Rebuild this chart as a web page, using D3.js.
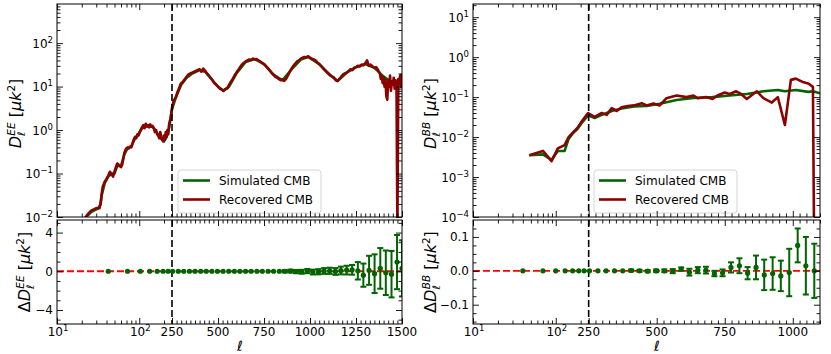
<!DOCTYPE html>
<html lang="en">
<head>
<meta charset="utf-8">
<title>EE / BB recovered vs simulated</title>
<script src="https://d3js.org/d3.v7.min.js"></script>
<style>
  body { margin: 0; background: #fff; }
  text { font-family: "DejaVu Sans", sans-serif; fill: #000; }
</style>
</head>
<body>
<script>

// ---- data ----
// EE spectrum, [ell, D_ell] in uK^2
var eeRec = [[18,0.005],[20,0.007],[22,0.0095],[24,0.012],[26,0.014],[28,0.015],[30,0.016],[32,0.016],[34,0.02],[35,0.035],[36,0.05],[38,0.065],[40,0.075],[42,0.09],[44,0.11],[46,0.095],[48,0.085],[50,0.11],[52,0.14],[54,0.17],[56,0.16],[58,0.15],[60,0.14],[62,0.16],[64,0.22],[66,0.3],[68,0.35],[70,0.38],[72,0.4],[75,0.38],[78,0.42],[80,0.4],[83,0.5],[86,0.62],[89,0.7],[92,0.65],[95,0.8],[98,0.75],[101,0.9],[104,1.0],[108,1.15],[112,1.3],[116,1.1],[120,1.4],[124,1.2],[128,1.3],[132,1.15],[136,1.35],[140,1.2],[145,1.25],[150,1.1],[155,0.9],[160,1.0],[165,0.8],[170,0.75],[175,0.65],[180,0.9],[185,0.7],[190,0.6],[195,0.55],[200,0.75],[205,0.6],[210,0.9],[215,0.7],[220,1.0],[225,0.8],[230,1.3],[235,1.6],[240,1.8],[245,2.5],[250,3.2],
  [255,4],[260,4.8],[265,5.2],[270,5.5],[275,6.5],[280,7.5],[285,8.5],[290,9.5],[295,11],[300,12],[310,13],[320,15],[330,17],[340,19],[350,20],[360,21],[370,22],[380,23],[390,24],[400,25],[410,22],[420,26],[430,23],[440,20],[450,18],[460,16],[470,14],[480,12],[490,11],[500,10],[510,9],[520,8.5],[530,8],[540,8.8],[550,9],[560,11],[570,13],[580,15],[590,18],[600,21],[610,24],[620,28],[630,32],[640,35],[650,38],[660,40],[670,42],[680,41],[690,44],[700,42],[710,43],[720,40],[730,38],[740,35],[750,33],[760,30],[770,27],[780,24],[790,21],[800,19],[810,17],[820,16],[830,15],[840,14],[850,14.5],[860,13.5],[870,15],[880,18],[890,22],[900,26],[910,30],[920,34],[930,38],[940,40],[950,44],[960,46],[970,48],[980,47],[990,50],[1000,46],[1010,44],[1020,42],[1030,40],[1040,36],[1050,33],[1060,30],[1070,27],[1080,24],[1090,22],[1100,20],[1110,18],[1120,17],[1130,16],[1140,14],[1150,13.5],[1160,15],[1170,17],[1180,19],[1190,20],[1200,21],[1210,23],[1220,25],[1230,24],[1240,27],[1250,28],[1260,30],[1270,29],[1280,32],[1290,31],[1300,34],[1310,40],[1320,30],[1330,32],[1340,29],[1350,27],[1360,28],[1370,24],[1380,20],[1385,15],[1390,18],[1395,12],[1400,16],[1405,10],[1410,14],[1415,6],[1420,5],[1425,14],[1430,10],[1435,18],[1440,8],[1445,13],[1450,11],[1455,16],[1460,9],[1465,14],[1470,12],[1475,0.005],[1480,15],[1485,12],[1490,18],[1495,10],[1500,20]];

var eeSim = [[18,0.005],[22,0.0095],[26,0.013],[30,0.015],[33,0.016],[35,0.032],[38,0.06],[42,0.085],[46,0.1],[50,0.1],[54,0.15],[60,0.15],[66,0.28],[72,0.38],[80,0.42],[89,0.65],[98,0.8],[108,1.1],[120,1.25],[132,1.2],[145,1.2],[160,0.95],[175,0.7],[190,0.6],[200,0.55],[215,0.7],[230,1.1],[240,1.8],[250,3.0],[270,5.5],[300,11],[330,16],[360,20],[400,24],[430,22],[470,14],[500,10],[530,8],[560,10],[600,20],[650,37],[700,43],[750,33],[800,19],[850,14],[900,25],[950,42],[990,48],[1050,33],[1100,20],[1150,13.5],[1200,21],[1250,28],[1300,33],[1350,27],[1400,17],[1450,12],[1500,13]];

// BB spectrum, [ell, D_ell]
var bbRec = [[48,0.0035],[70,0.0045],[89,0.0025],[106,0.0052],[128,0.0063],[143,0.010],[164,0.0134],[183,0.017],[204,0.024],[246,0.04],[272,0.032],[298,0.04],[316,0.036],[335,0.053],[353,0.045],[371,0.056],[393,0.06],[417,0.062],[445,0.07],[463,0.062],[488,0.069],[511,0.062],[536,0.094],[573,0.11],[610,0.1],[635,0.11],[650,0.094],[681,0.1],[705,0.09],[723,0.11],[750,0.13],[768,0.12],[792,0.14],[810,0.12],[831,0.09],[868,0.14],[892,0.094],[923,0.073],[945,0.1],[971,0.02],[993,0.27],[1011,0.29],[1036,0.24],[1057,0.22],[1074,0.18],[1078,0.00005]];

var bbSim = [[48,0.0035],[70,0.0037],[89,0.0027],[106,0.0045],[128,0.0045],[143,0.009],[164,0.013],[183,0.016],[204,0.022],[246,0.035],[272,0.03],[298,0.036],[335,0.045],[371,0.052],[417,0.058],[463,0.06],[511,0.068],[573,0.085],[635,0.095],[705,0.1],[768,0.11],[831,0.12],[892,0.14],[945,0.15],[971,0.14],[1011,0.15],[1057,0.135],[1074,0.14],[1100,0.125]];

// residuals (recovered - simulated), binned
var eeBins = [42,72,103,134,165,195,224,253,284,314,345,375,406,436,467,497,528,558,589,619,650,680,711,741,772,802,833,863,894,924,955,985,1016,1046,1077,1107,1138,1168,1199,1229,1260,1290,1321,1351,1382,1412,1443,1473,1500];
var eeDiff = [0,0,0,0,0,0,0,0,0,0,0,0,0,0,0,0,0,0,0,0,0,0,0,0,0,0,0,0,0.02,-0.03,-0.05,0.02,-0.08,-0.05,0.03,0.05,-0.02,0.08,0.12,0.15,0.05,-0.4,0.1,-0.25,0.3,-0.15,-0.3,0.95,0.3];
var eeErr = [0.03,0.03,0.03,0.03,0.03,0.03,0.03,0.03,0.03,0.03,0.03,0.03,0.03,0.03,0.03,0.03,0.03,0.05,0.05,0.06,0.06,0.07,0.07,0.08,0.08,0.09,0.1,0.12,0.15,0.17,0.2,0.22,0.25,0.27,0.3,0.32,0.35,0.4,0.45,0.5,0.9,1.2,1.5,2.0,2.1,2.3,2.4,2.8,2.9];

var bbBins = [40,70,100,130,160,190,220,253,284,314,345,375,406,437,467,498,528,559,590,620,651,681,712,742,773,804,834,865,895,926,956,987,1018,1048,1079];
var bbDiff = [0,0,0,0,0,0,0,0,0,0,0,0,0.001,0,-0.001,0,0,-0.001,0.005,-0.004,0.002,0.002,-0.008,-0.006,0.01,0.015,-0.007,0.01,-0.012,-0.008,-0.015,-0.005,0.075,0.015,0.0];
var bbErr = [0.001,0.001,0.001,0.001,0.001,0.001,0.001,0.001,0.001,0.001,0.001,0.002,0.003,0.003,0.003,0.004,0.004,0.006,0.005,0.01,0.009,0.01,0.008,0.01,0.015,0.022,0.018,0.035,0.045,0.048,0.045,0.07,0.05,0.085,0.08];

var legendNames = ["Simulated CMB", "Recovered CMB"];
var green = "#006400", red = "#8b0000";

var svg = d3.select("body").append("svg").attr("width", 831).attr("height", 354);

// inward tick marks via d3 axes
function ticks(g, axisFn, scale, pos, vals, len, horiz) {
  var a = axisFn(scale).tickValues(vals).tickSize(-len).tickFormat("");
  var gg = g.append("g")
    .attr("transform", horiz ? "translate(0," + pos + ")" : "translate(" + pos + ",0)")
    .call(a);
  gg.select(".domain").remove();
  gg.selectAll("text").remove();
  gg.selectAll("line").attr("stroke", "#000").attr("stroke-width", 0.9);
}

function pow10(sel, e) {
  sel.text("10");
  sel.append("tspan").attr("dy", -5).attr("font-size", 8.5).text(e);
}

function ylabel(g, bx, cy, delta, sup) {
  var t = g.append("text").attr("transform", "translate(" + bx + "," + cy + ") rotate(-90)")
    .attr("text-anchor", "middle").attr("font-size", 16);
  if (delta) t.append("tspan").text("Δ");
  t.append("tspan").attr("font-style", "italic").text("D");
  t.append("tspan").attr("font-style", "italic").attr("font-size", 10.5).attr("dy", 4).text("ℓ");
  t.append("tspan").attr("font-style", "italic").attr("font-size", 10.5).attr("dx", -4).attr("dy", -10.5).text(sup);
  t.append("tspan").attr("dy", 6.5).text(" [");
  t.append("tspan").attr("font-style", "italic").text("μk");
  t.append("tspan").attr("font-size", 10.5).attr("dy", -6.5).text("2");
  t.append("tspan").attr("dy", 6.5).text("]");
}

function panel(o) {
  var x0 = o.x0, x1 = o.x1, xb = x0 + (x1 - x0) / 3;
  var yT0 = 4, yT1 = 217, yB0 = 220, yB1 = 324;
  var xLog = d3.scaleLog().domain([10, 250]).range([x0, xb]);
  var xLin = d3.scaleLinear().domain([250, o.lmax]).range([xb, x1]);
  var xs = function(l) { return l <= 250 ? xLog(l) : xLin(l); };
  var yTop = d3.scaleLog().domain(o.yDom).range([yT1, yT0]);
  var yBot = d3.scaleLinear().domain(o.rDom).range([yB1, yB0]);
  var g = svg.append("g");

  // clip paths
  g.append("clipPath").attr("id", o.id + "t").append("rect")
    .attr("x", x0).attr("y", yT0).attr("width", x1 - x0).attr("height", yT1 - yT0);
  g.append("clipPath").attr("id", o.id + "b").append("rect")
    .attr("x", x0).attr("y", yB0).attr("width", x1 - x0).attr("height", yB1 - yB0);

  // spectra
  var line = d3.line().x(function(d) { return xs(d[0]); }).y(function(d) { return yTop(d[1]); });
  var top = g.append("g").attr("clip-path", "url(#" + o.id + "t)");
  top.append("path").datum(o.sim).attr("d", line).attr("fill", "none")
    .attr("stroke", green).attr("stroke-width", 2.6).attr("stroke-linejoin", "round");
  top.append("path").datum(o.rec).attr("d", line).attr("fill", "none")
    .attr("stroke", red).attr("stroke-width", 2.6).attr("stroke-linejoin", "round");

  // l = 250 marker
  [[yT0, yT1], [yB0, yB1]].forEach(function(r) {
    g.append("line").attr("x1", xs(250)).attr("x2", xs(250)).attr("y1", r[0]).attr("y2", r[1])
      .attr("stroke", "#000").attr("stroke-width", 1.6).attr("stroke-dasharray", "7,3");
  });

  // legend
  var lg = g.append("g").attr("transform", "translate(" + (x0 + 121) + ",170)");
  lg.append("rect").attr("width", 143).attr("height", 43).attr("rx", 3)
    .attr("fill", "#fff").attr("fill-opacity", 0.8).attr("stroke", "#d5d5d5");
  legendNames.forEach(function(n, i) {
    lg.append("line").attr("x1", 5).attr("x2", 32).attr("y1", 10.5 + i * 19).attr("y2", 10.5 + i * 19)
      .attr("stroke", i ? red : green).attr("stroke-width", 2.6);
    lg.append("text").attr("x", 41).attr("y", 15 + i * 19).attr("font-size", 12).text(n);
  });

  // residuals
  var bot = g.append("g").attr("clip-path", "url(#" + o.id + "b)");
  bot.append("line").attr("x1", x0).attr("x2", x1).attr("y1", yBot(0)).attr("y2", yBot(0))
    .attr("stroke", "#ff0000").attr("stroke-width", 1.8).attr("stroke-dasharray", "7,3");
  o.bins.forEach(function(l, i) {
    var cx = xs(l), m = o.diff[i], e = o.err[i];
    var eb = bot.append("g").attr("stroke", green).attr("stroke-width", 2);
    eb.append("line").attr("x1", cx).attr("x2", cx).attr("y1", yBot(m - e)).attr("y2", yBot(m + e));
    if (yBot(m - e) - yBot(m + e) > 2) {
      [m - e, m + e].forEach(function(v) {
        eb.append("line").attr("x1", cx - 3).attr("x2", cx + 3).attr("y1", yBot(v)).attr("y2", yBot(v));
      });
    }
    bot.append("circle").attr("cx", cx).attr("cy", yBot(m)).attr("r", 2.6).attr("fill", green);
  });

  // frames
  [[yT0, yT1], [yB0, yB1]].forEach(function(r) {
    g.append("rect").attr("x", x0).attr("y", r[0]).attr("width", x1 - x0).attr("height", r[1] - r[0])
      .attr("fill", "none").attr("stroke", "#000").attr("stroke-width", 1);
  });

  // x ticks on all four horizontal edges
  var logMaj = [10, 100], logMin = [20, 30, 40, 50, 60, 70, 80, 90, 200];
  var linMaj = d3.range(250, o.lmax + 1, 250);
  var linMin = d3.range(275, o.lmax + 1, 25).filter(function(v) { return v % 250 !== 0; });
  [[yT1, d3.axisBottom], [yT0, d3.axisTop], [yB1, d3.axisBottom], [yB0, d3.axisTop]].forEach(function(p) {
    ticks(g, p[1], xLog, p[0], logMaj, 6, true);
    ticks(g, p[1], xLog, p[0], logMin, 3.5, true);
    ticks(g, p[1], xLin, p[0], linMaj, 6, true);
    ticks(g, p[1], xLin, p[0], linMin, 3.5, true);
  });

  // y ticks, top (log)
  var d0 = Math.round(Math.log10(o.yDom[0])), d1 = Math.floor(Math.log10(o.yDom[1]));
  var yMaj = d3.range(d0, d1 + 1).map(function(d) { return Math.pow(10, d); });
  var yMin = [];
  d3.range(d0, d1 + 1).forEach(function(d) {
    for (var k = 2; k < 10; k++) { var v = k * Math.pow(10, d); if (v < o.yDom[1]) yMin.push(v); }
  });
  [[x0, d3.axisLeft], [x1, d3.axisRight]].forEach(function(p) {
    ticks(g, p[1], yTop, p[0], yMaj, 6, false);
    ticks(g, p[1], yTop, p[0], yMin, 3.5, false);
    ticks(g, p[1], yBot, p[0], o.rMaj, 6, false);
    ticks(g, p[1], yBot, p[0], o.rMin, 3.5, false);
  });

  // tick labels
  yMaj.forEach(function(v) {
    var e = Math.round(Math.log10(v));
    var t = g.append("text").attr("x", x0 - 4).attr("y", yTop(v) + 4.5)
      .attr("text-anchor", "end").attr("font-size", 12);
    pow10(t, e < 0 ? "−" + (-e) : String(e));
  });
  o.rMaj.forEach(function(v) {
    g.append("text").attr("x", x0 - 4).attr("y", yBot(v) + 4.5).attr("text-anchor", "end")
      .attr("font-size", 12).text(o.rFmt(v).replace("-", "−"));
  });
  [[10, "1"], [100, "2"]].forEach(function(p) {
    var t = g.append("text").attr("x", xs(p[0]) + 1).attr("y", yB1 + 12).attr("text-anchor", "middle").attr("font-size", 12);
    pow10(t, p[1]);
  });
  linMaj.forEach(function(v) {
    g.append("text").attr("x", xs(v)).attr("y", yB1 + 12).attr("text-anchor", "middle")
      .attr("font-size", 12).text(v);
  });

  // axis titles
  ylabel(g, o.ylx, (yT0 + yT1) / 2 + 3, false, o.sup);
  ylabel(g, o.ylxB, (yB0 + yB1) / 2, true, o.sup);
  g.append("text").attr("x", o.xlab).attr("y", 351).attr("text-anchor", "middle")
    .attr("font-size", 14).attr("font-style", "italic").text("ℓ");
}

panel({ id: "ee", x0: 57, x1: 402, lmax: 1500, yDom: [1e-2, Math.pow(10, 2.9)],
  rDom: [-5.45, 5.3], rMaj: [-4, 0, 4], rMin: [-5, -3, -2, -1, 1, 2, 3, 5], rFmt: d3.format("d"),
  rec: eeRec, sim: eeSim, bins: eeBins, diff: eeDiff, err: eeErr,
  sup: "EE", ylx: 21, ylxB: 30, xlab: 240 });

panel({ id: "bb", x0: 473, x1: 820, lmax: 1100, yDom: [1e-4, Math.pow(10, 1.33)],
  rDom: [-0.157, 0.15], rMaj: [-0.1, 0, 0.1], rMin: [-0.15, -0.125, -0.075, -0.05, -0.025, 0.025, 0.05, 0.075, 0.125],
  rFmt: d3.format(".1f"),
  rec: bbRec, sim: bbSim, bins: bbBins, diff: bbDiff, err: bbErr,
  sup: "BB", ylx: 436, ylxB: 436, xlab: 657 });

</script>
</body>
</html>
